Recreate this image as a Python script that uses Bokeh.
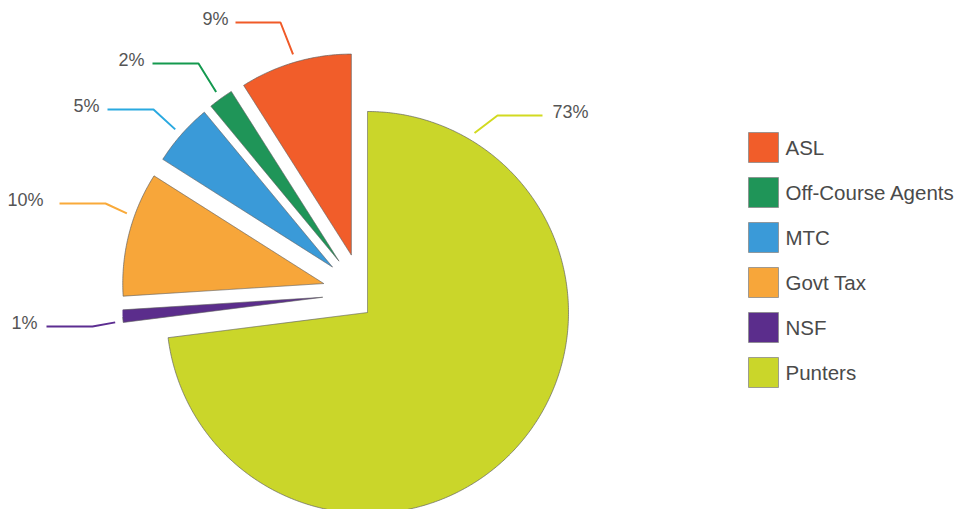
import math
from bokeh.plotting import figure
from bokeh.models import Range1d, ColumnDataSource
from bokeh.core.properties import value
from bokeh.embed import file_html
from bokeh.resources import INLINE

# ---------------- data ----------------
categories = ["ASL", "Off-Course Agents", "MTC", "Govt Tax", "NSF", "Punters"]
shares = [9, 2, 5, 10, 1, 73]
pct_labels = ["9%", "2%", "5%", "10%", "1%", "73%"]

# ---------------- style ----------------
fill_colors = ["#F15D2A", "#1F9558", "#3A9AD8", "#F7A63A", "#5B2D8C", "#CAD62A"]
leader_colors = ["#F05A28", "#14994F", "#2AA9E0", "#F9AA3A", "#5C2D91", "#D2DA20"]
FONT = "Liberation Sans"

# layout in page pixels (data units == page pixels, y downwards)
PIE_CENTER = (362.0, 293.0)
RADIUS = 201.0
EXPLODE = 40.0
SHIFT_OVERRIDE = {"Punters": (5.0, 19.0)}
CLIP_LEFT = 122.0
CLIP_TOP = 50.0

# leader: label angle (deg, counter-clockwise from 12 o'clock), elbow point, horizontal length, text gap
LEADERS = {
    "ASL": (16.2, (280, 22), 45, 7),
    "Off-Course Agents": (36.0, (198, 63), 46, 8),
    "MTC": (48.8, (153, 109), 46, 8),
    "Govt Tax": (70.4, (105, 203), 46, 16),
    "NSF": (96.9, (92, 326), 46, 9),
    "Punters": (-30.8, (497, 115), 45, 10),
}

LEG_X = 763
LEG_Y0 = 147
LEG_STEP = 45
LEG_BOX = 30
LEG_TEXT_X = 785

W, H = 959, 509


def direction(theta_deg):
    t = math.radians(theta_deg)
    return (-math.sin(t), -math.cos(t))


def clip_half(pts, inside, inter):
    out = []
    n = len(pts)
    for i in range(n):
        cur = pts[i]
        prev = pts[i - 1]
        if inside(cur):
            if not inside(prev):
                out.append(inter(prev, cur))
            out.append(cur)
        elif inside(prev):
            out.append(inter(prev, cur))
    return out


def in_left(p):
    return p[0] >= CLIP_LEFT


def int_left(a, b):
    t = (CLIP_LEFT - a[0]) / (b[0] - a[0])
    return (CLIP_LEFT, a[1] + t * (b[1] - a[1]))


def in_top(p):
    return p[1] >= CLIP_TOP


def int_top(a, b):
    t = (CLIP_TOP - a[1]) / (b[1] - a[1])
    return (a[0] + t * (b[0] - a[0]), CLIP_TOP)


total = float(sum(shares))
xs, ys, ox, oy = [], [], [], []
apexes = []
start = 0.0
for cat, s in zip(categories, shares):
    span = 360.0 * s / total
    end = start + span
    mid = (start + end) / 2.0
    if cat in SHIFT_OVERRIDE:
        dx, dy = SHIFT_OVERRIDE[cat]
    else:
        d = direction(mid)
        dx, dy = d[0] * EXPLODE, d[1] * EXPLODE
    ax, ay = PIE_CENTER[0] + dx, PIE_CENTER[1] + dy
    apexes.append((ax, ay))
    n = max(4, int(span * 2))
    arc = []
    for k in range(n + 1):
        th = start + span * k / n
        d = direction(th)
        arc.append((ax + RADIUS * d[0], ay + RADIUS * d[1]))
    poly = [(ax, ay)] + arc
    cp = clip_half(poly, in_left, int_left)
    cp = clip_half(cp, in_top, int_top)
    xs.append([p[0] for p in cp])
    ys.append([p[1] for p in cp])
    # outline, densified and masked outside clip area
    closed = poly + [poly[0]]
    lx, ly = [], []
    for i in range(len(closed) - 1):
        a, b = closed[i], closed[i + 1]
        seg = max(1, int(math.hypot(b[0] - a[0], b[1] - a[1])))
        for k in range(seg):
            px = a[0] + (b[0] - a[0]) * k / seg
            py = a[1] + (b[1] - a[1]) * k / seg
            if px >= CLIP_LEFT and py >= CLIP_TOP:
                lx.append(px)
                ly.append(py)
            else:
                lx.append(float("nan"))
                ly.append(float("nan"))
    lx.append(closed[-1][0])
    ly.append(closed[-1][1])
    ox.append(lx)
    oy.append(ly)
    start = end

p = figure(width=W, height=H, x_range=Range1d(0, W), y_range=Range1d(H, 0),
           output_backend="svg", toolbar_location=None, min_border=0,
           x_axis_type=None, y_axis_type=None)
p.grid.visible = False
p.outline_line_color = None
p.background_fill_color = "white"
p.border_fill_color = "white"

src = ColumnDataSource(dict(xs=xs, ys=ys, color=fill_colors, cat=categories))
p.patches("xs", "ys", source=src, fill_color="color", line_color=None)
p.multi_line(ox, oy, line_color="#5f5f5f", line_width=0.8, line_alpha=0.85)

# leader lines and labels
lxs, lys, lcols = [], [], []
tx, ty, tt, talign = [], [], [], []
for i, cat in enumerate(categories):
    ang, (ex, ey), hlen, gap = LEADERS[cat]
    ax, ay = apexes[i]
    d = direction(ang)
    sx, sy = ax + (RADIUS + 8) * d[0], ay + (RADIUS + 8) * d[1]
    if ex < sx:
        endx = ex - hlen
        tx.append(endx - gap)
        talign.append("right")
    else:
        endx = ex + hlen
        tx.append(endx + gap)
        talign.append("left")
    lxs.append([sx, ex, endx])
    lys.append([sy, ey, ey])
    lcols.append(leader_colors[i])
    ty.append(ey - 4)
    tt.append(pct_labels[i])

p.multi_line(lxs, lys, line_color=lcols, line_width=2)
lab_src = ColumnDataSource(dict(x=tx, y=ty, text=tt, align=talign))
p.text(x="x", y="y", text="text", text_align="align", source=lab_src,
       text_baseline="middle", text_font=value(FONT), text_font_size=value("18px"),
       text_color="#555555")

# legend
leg_y = [LEG_Y0 + i * LEG_STEP for i in range(len(categories))]
p.rect(x=[LEG_X] * len(categories), y=leg_y, width=LEG_BOX, height=LEG_BOX,
       fill_color=fill_colors, line_color="#8a8a8a", line_width=0.8)
p.text(x=[LEG_TEXT_X] * len(categories), y=leg_y, text=categories,
       text_baseline="middle", text_align="left", text_font=value(FONT),
       text_font_size=value("20.5px"), text_color="#4a4a4a")

open("out.html", "w").write(file_html(p, INLINE))
